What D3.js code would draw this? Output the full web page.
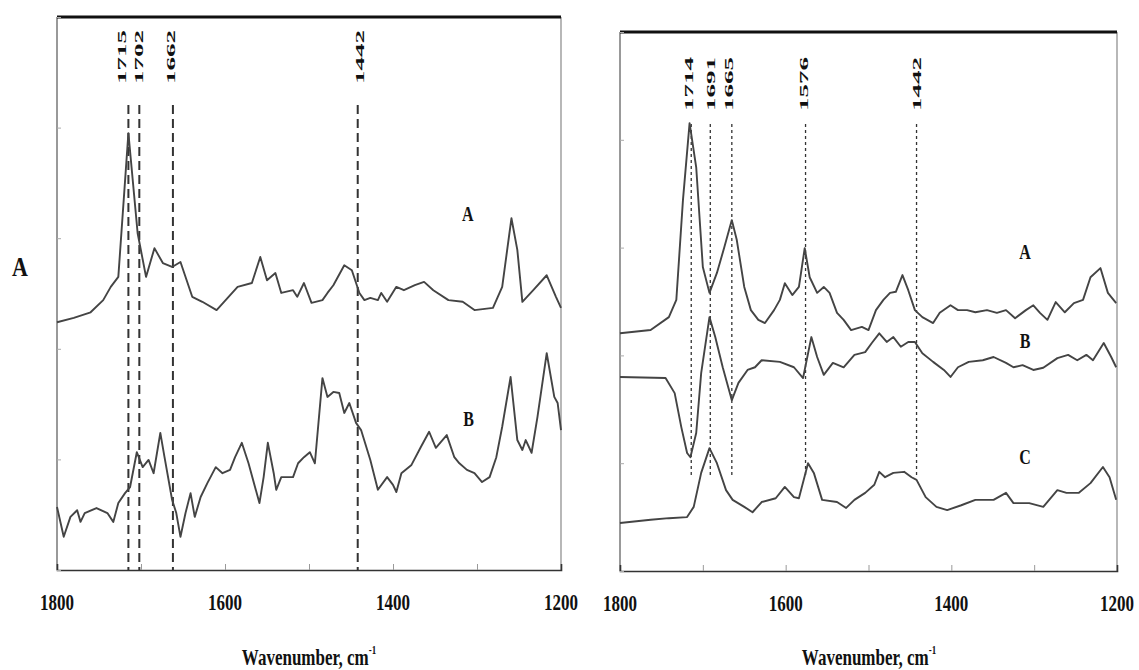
<!DOCTYPE html>
<html><head><meta charset="utf-8">
<script src="https://cdn.jsdelivr.net/npm/d3@7"></script>
<style>body{margin:0;background:#fff}</style></head>
<body>
<svg id="c" width="1139" height="670"></svg>
<script>
// ---------- data ----------
const xTickLabels = [1800, 1600, 1400, 1200];
const minorTicks = [1700, 1600, 1500, 1400, 1300];
const yTicks = [0, 20, 40, 60, 80, 100];
const leftPeaks = [1715, 1702, 1662, 1442];
const rightPeaks = [1714, 1691, 1665, 1576, 1442];
const leftSeriesNames = ["A", "B"];
const rightSeriesNames = ["A", "B", "C"];
const leftLabelPos = [[1311, 64.4], [1310, 27.3]];
const rightLabelPos = [[1311, 59.2], [1311, 42.7], [1311, 21.1]];

const leftA = [[1800,44.8],[1780,45.6],[1760,46.6],[1745,48.8],[1736,51.2],[1727,53.0],[1715,79.0],[1704,60.9],[1694,53.0],[1684,58.2],[1674,55.5],[1663,54.8],[1653,55.7],[1639,49.4],[1627,48.5],[1610,47.0],[1585,51.2],[1568,51.9],[1558,56.6],[1550,52.4],[1540,53.7],[1533,50.1],[1519,50.6],[1514,49.4],[1506,51.9],[1497,48.3],[1484,48.8],[1478,50.1],[1471,51.5],[1458,55.1],[1449,54.2],[1440,50.1],[1434,48.8],[1427,49.2],[1418,48.8],[1414,50.1],[1407,48.5],[1396,51.2],[1387,50.6],[1374,51.5],[1363,52.1],[1352,50.6],[1334,48.8],[1317,48.5],[1303,47.0],[1281,47.4],[1270,51.2],[1259,63.6],[1252,57.9],[1246,48.5],[1233,50.6],[1217,53.3],[1206,49.4],[1200,47.4]];
const leftB = [[1800,11.4],[1792,6.0],[1784,9.6],[1776,10.8],[1772,8.7],[1767,10.3],[1753,11.2],[1740,10.3],[1733,8.7],[1727,12.1],[1719,13.9],[1713,15.0],[1705,21.3],[1698,18.6],[1691,19.9],[1685,17.5],[1677,24.8],[1672,20.4],[1663,12.7],[1658,10.3],[1653,6.0],[1647,10.3],[1641,13.9],[1636,9.6],[1629,13.2],[1621,15.7],[1611,18.6],[1603,17.5],[1594,18.1],[1588,20.4],[1580,23.0],[1572,19.3],[1559,12.1],[1554,16.8],[1549,23.0],[1542,17.5],[1539,14.5],[1533,16.8],[1519,16.8],[1513,19.3],[1506,20.4],[1499,21.3],[1493,19.3],[1484,34.7],[1478,31.3],[1471,32.2],[1464,32.0],[1458,28.4],[1452,30.2],[1444,26.6],[1438,25.3],[1427,19.9],[1418,14.5],[1407,16.8],[1400,15.4],[1396,14.1],[1390,17.5],[1378,19.0],[1367,22.2],[1357,25.0],[1349,22.1],[1336,24.4],[1327,20.4],[1321,19.3],[1312,18.1],[1303,17.5],[1294,15.9],[1285,16.8],[1277,20.4],[1270,25.9],[1260,34.9],[1252,23.5],[1246,21.7],[1242,23.5],[1235,21.2],[1228,27.7],[1217,39.2],[1208,31.3],[1204,30.2],[1200,25.3]];
const rightA = [[1800,44.1],[1763,44.7],[1741,47.1],[1732,50.3],[1724,68.8],[1716,83.1],[1708,74.9],[1700,56.4],[1692,51.6],[1683,55.3],[1674,60.1],[1665,65.1],[1659,61.4],[1650,52.7],[1642,48.4],[1633,46.6],[1625,46.0],[1614,48.4],[1607,50.3],[1601,53.4],[1592,51.2],[1584,52.7],[1577,59.9],[1571,54.5],[1562,51.6],[1554,52.7],[1547,51.6],[1538,47.9],[1530,46.6],[1521,44.7],[1508,45.3],[1500,44.7],[1491,48.4],[1482,50.3],[1474,51.6],[1467,51.8],[1459,54.9],[1452,52.1],[1444,48.4],[1435,47.1],[1422,46.0],[1414,47.9],[1401,49.3],[1392,48.4],[1381,48.4],[1371,48.0],[1357,48.4],[1345,47.9],[1334,48.4],[1323,46.9],[1310,48.4],[1301,49.3],[1293,47.9],[1284,46.6],[1274,49.9],[1263,48.0],[1252,49.7],[1241,50.3],[1232,54.5],[1220,56.2],[1211,51.6],[1201,49.7]];
const rightB = [[1800,36.0],[1745,35.8],[1734,33.0],[1726,26.7],[1719,21.9],[1715,21.1],[1708,25.6],[1702,36.7],[1692,47.1],[1685,43.4],[1676,37.8],[1665,31.7],[1657,34.9],[1646,37.3],[1637,37.8],[1629,39.1],[1607,38.8],[1590,37.8],[1579,35.8],[1569,43.4],[1562,39.7],[1554,36.4],[1543,38.6],[1530,37.8],[1517,40.1],[1504,40.6],[1496,42.3],[1487,44.1],[1478,42.5],[1470,43.4],[1461,41.6],[1452,42.5],[1444,42.5],[1435,40.4],[1422,38.8],[1409,37.3],[1401,36.0],[1392,37.8],[1379,38.8],[1362,39.1],[1349,39.7],[1334,38.6],[1325,37.8],[1314,38.2],[1301,37.3],[1289,37.7],[1272,39.5],[1259,40.1],[1248,39.1],[1237,40.1],[1229,39.1],[1216,42.3],[1207,39.7],[1201,37.8]];
const rightC = [[1800,8.9],[1763,9.5],[1741,9.8],[1719,10.0],[1711,11.9],[1702,18.2],[1692,22.8],[1683,20.0],[1672,15.0],[1664,13.2],[1650,11.9],[1640,10.9],[1629,12.8],[1612,13.5],[1601,15.6],[1590,13.7],[1584,13.5],[1573,20.0],[1566,18.2],[1556,13.2],[1538,12.8],[1527,11.7],[1517,13.2],[1504,14.5],[1493,16.0],[1487,18.4],[1480,17.4],[1470,18.2],[1457,18.4],[1448,17.4],[1442,16.9],[1431,13.7],[1418,11.9],[1405,11.3],[1388,12.2],[1371,13.2],[1349,13.2],[1334,14.5],[1325,12.6],[1306,12.6],[1289,11.9],[1272,15.0],[1261,14.5],[1246,14.5],[1232,16.3],[1217,19.3],[1209,17.4],[1201,13.2]];

// ---------- layout ----------
const svg = d3.select("#c");
const serif = "'Liberation Serif','Times New Roman',serif";

const panels = [
  {x0:57, x1:561, top:17, bottom:570, series:[leftA,leftB], names:leftSeriesNames, namePos:leftLabelPos,
   peaks:leftPeaks, labOff:[-7,-1,-2,2], labBottom:84, labLen:54, lineTop:105, lineBottom:570, dash:"9,5", dashW:2, dashCol:"#333", xlabX:309},
  {x0:620, x1:1117, top:32, bottom:571, series:[rightA,rightB,rightC], names:rightSeriesNames, namePos:rightLabelPos,
   peaks:rightPeaks, labOff:[-3,0,-3,-2,0], labBottom:111, labLen:54, lineTop:124, lineBottom:476, dash:"3,3", dashW:1.3, dashCol:"#333", xlabX:869}
];

function tallText(sel, x, y, size, sy) {
  return sel.append("text").attr("transform", `translate(${x},${y}) scale(1,${sy})`)
    .attr("text-anchor","middle").attr("font-family",serif).attr("font-weight","bold")
    .attr("font-size",size).attr("fill","#111");
}

panels.forEach(p => {
  const x = d3.scaleLinear().domain([1800, 1200]).range([p.x0, p.x1]);
  const y = d3.scaleLinear().domain([0, 100]).range([p.bottom, p.top]);
  const g = svg.append("g");

  // frame sides
  g.append("line").attr("x1",p.x0).attr("x2",p.x0).attr("y1",p.top).attr("y2",p.bottom).attr("stroke","#555").attr("stroke-width",1.2);
  g.append("line").attr("x1",p.x1).attr("x2",p.x1).attr("y1",p.top).attr("y2",p.bottom).attr("stroke","#888").attr("stroke-width",1.2);
  g.append("line").attr("x1",p.x0).attr("x2",p.x1).attr("y1",p.top).attr("y2",p.top).attr("stroke","#111").attr("stroke-width",3);

  // bottom axis
  const xAxis = d3.axisBottom(x).tickValues(minorTicks).tickSize(-6).tickFormat("");
  const ax = g.append("g").attr("transform",`translate(0,${p.bottom})`).call(xAxis);
  ax.select(".domain").attr("stroke","#333").attr("stroke-width",1.6);
  ax.selectAll(".tick line").attr("stroke","#999");

  // tick labels (tall condensed look)
  xTickLabels.forEach(v => tallText(g, x(v), p.bottom + 40, 17, 1.4).text(v));

  // y axis ticks
  const yAxis = d3.axisLeft(y).tickValues(yTicks).tickSize(-4).tickFormat("");
  const ay = g.append("g").attr("transform",`translate(${p.x0},0)`).call(yAxis);
  ay.select(".domain").remove();
  ay.selectAll(".tick line").attr("stroke","#aaa");

  // x title
  const t = tallText(g, p.xlabX, 665, 17, 1.35);
  t.append("tspan").text("Wavenumber, cm");
  t.append("tspan").attr("dy",-8).attr("font-size",9).text("-1");

  // dashed peak lines
  g.selectAll(".pk").data(p.peaks).enter().append("line")
    .attr("x1", d => x(d)).attr("x2", d => x(d)).attr("y1", p.lineTop).attr("y2", p.lineBottom)
    .attr("stroke",p.dashCol).attr("stroke-width",p.dashW).attr("stroke-dasharray",p.dash);

  // peak labels (rotated, reading bottom-to-top)
  g.selectAll(".pl").data(p.peaks).enter().append("text")
    .attr("transform", (d,i) => `translate(${x(d) + p.labOff[i]},${p.labBottom}) rotate(-90)`)
    .attr("dominant-baseline","central").attr("font-family",serif).attr("font-weight","bold")
    .attr("font-size",13).attr("fill","#111")
    .attr("textLength",p.labLen).attr("lengthAdjust","spacingAndGlyphs").text(d => d);

  // spectra
  const line = d3.line().x(d => x(d[0])).y(d => y(d[1]));
  p.series.forEach(s => {
    g.append("path").datum(s).attr("d",line).attr("fill","none")
      .attr("stroke","#444").attr("stroke-width",1.9).attr("stroke-linejoin","round");
  });

  // series names
  p.names.forEach((n,i) => tallText(g, x(p.namePos[i][0]), y(p.namePos[i][1]) + 7, 16, 1.3).text(n));
});

// overall y label
tallText(svg, 20, 276, 22, 1.2).text("A");
</script>
</body></html>
